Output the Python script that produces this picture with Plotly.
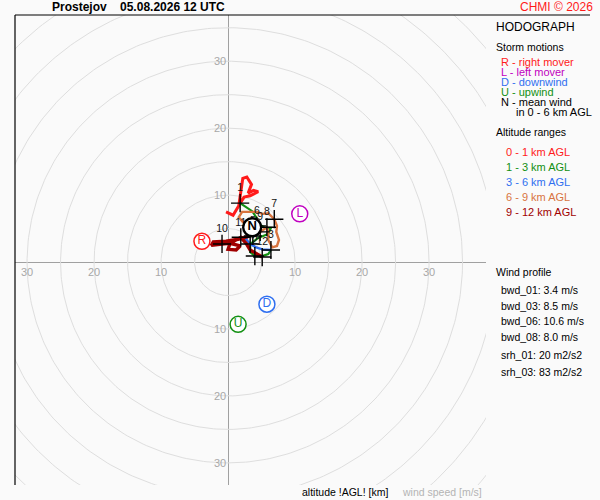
import numpy as np
import plotly.graph_objects as go

# wind hodograph (u, v in m/s) per altitude layer
u_0_1 = [-0.3, 0.75, 1.6, 1.9, 2.2, 2.8, 3.5, 3.0, 3.8, 4.5, 3.3, 2.4, 1.8]
v_0_1 = [7.5, 7.0, 8.4, 10.4, 12.5, 12.7, 11.6, 10.3, 10.7, 10.5, 9.9, 9.7, 8.8]
u_1_3 = [1.8, 2.7, 3.6, 4.2, 4.6, 5.5, 6.4, 6.0, 4.5, 3.3, 3.3, 4.0, 5.1, 6.0, 6.4]
v_1_3 = [8.8, 8.2, 7.6, 6.7, 5.7, 5.1, 5.1, 4.2, 3.6, 2.7, 1.5, 0.9, 0.9, 1.2, 1.8]
u_3_6 = [6.4, 5.1, 4.2, 3.3, 2.7, 3.1, 3.7, 3.6, 4.3]
v_3_6 = [1.8, 1.9, 2.2, 2.7, 3.4, 4.3, 3.9, 4.9, 5.4]
u_6_9 = [4.3, 3.3, 2.2, 1.6, 2.1, 3.3, 4.2, 5.2, 6.0, 6.9, 7.3, 7.2, 7.6, 7.3, 6.6, 6.0, 6.0, 5.8, 4.8]
v_6_9 = [5.4, 5.7, 6.0, 6.7, 7.5, 7.5, 7.5, 7.2, 7.3, 6.4, 5.4, 4.5, 3.3, 2.4, 2.2, 3.3, 4.5, 5.2, 4.5]
u_9_12 = [4.8, 3.3, 1.5, -0.3, -2.2, -2.5, -0.9, 0.3, 1.8, 1.2, 0.0, 0.3, 1.9, 2.7, 3.3, 4.2, 5.1]
v_9_12 = [4.5, 3.9, 3.4, 3.1, 3.0, 2.5, 2.7, 2.8, 2.4, 1.8, 1.9, 2.8, 3.7, 2.8, 1.8, 1.2, 0.75]

# km markers
km_labels = ["1", "2", "3", "4", "5", "6", "7", "8", "9", "10", "11", "12"]
km_u = [1.8, 4.0, 6.4, 3.3, 3.7, 4.3, 6.9, 5.8, 4.8, -0.9, 1.9, 5.1]
km_v = [8.8, 0.9, 1.8, 2.7, 3.9, 5.4, 6.4, 5.2, 4.5, 2.7, 3.7, 0.75]

# storm motions
storm_names = ["R", "L", "D", "U", "N"]
storm_u = [-3.9, 10.7, 5.8, 1.5, 3.6]
storm_v = [3.1, 7.2, -6.3, -9.3, 5.2]

rings = [5, 10, 15, 20, 25, 30, 35, 40, 45, 50]
ring_ticks = [10, 20, 30]

layer_names = ["0 - 1 km AGL", "1 - 3 km AGL", "3 - 6 km AGL", "6 - 9 km AGL", "9 - 12 km AGL"]
profile_lines = ["bwd_01: 3.4 m/s", "bwd_03: 8.5 m/s", "bwd_06: 10.6 m/s", "bwd_08: 8.0 m/s"]
srh_lines = ["srh_01: 20 m2/s2", "srh_03: 83 m2/s2"]

RED = "#ff1a1a"
PURPLE = "#c000c0"
BLUE = "#2f6ff0"
GREEN = "#129012"
ORANGE = "#d8743f"
DARKRED = "#a00000"
FONT = "Liberation Sans, Arial, sans-serif"

fig = go.Figure()

t = np.linspace(0, 2 * np.pi, 361)
for r in rings:
    fig.add_trace(go.Scatter(x=r * np.cos(t), y=r * np.sin(t), mode="lines",
                             line=dict(color="#dedede", width=1), hoverinfo="skip"))

layers = [(u_0_1, v_0_1, RED, 3), (u_1_3, v_1_3, GREEN, 2.2),
          (u_3_6, v_3_6, BLUE, 2.4), (u_6_9, v_6_9, ORANGE, 2.4),
          (u_9_12, v_9_12, DARKRED, 3.4)]
for u, v, c, w in layers:
    fig.add_trace(go.Scatter(x=u, y=v, mode="lines", line=dict(color=c, width=w)))

fig.add_trace(go.Scatter(x=km_u, y=km_v, mode="markers+text", text=km_labels,
                         textposition="top center",
                         textfont=dict(family=FONT, size=10.5, color="#111"),
                         marker=dict(symbol="cross-thin", size=13,
                                     line=dict(color="black", width=1.4))))

storm_colors = [RED, PURPLE, BLUE, GREEN, "black"]
for name, u, v, c in zip(storm_names, storm_u, storm_v, storm_colors):
    bold = name == "N"
    fig.add_trace(go.Scatter(
        x=[u], y=[v], mode="markers+text", text=["<b>N</b>" if bold else name],
        textposition="middle center",
        textfont=dict(family=FONT, size=13 if bold else 12, color=c),
        marker=dict(symbol="circle", size=18 if bold else 16, color="white",
                    line=dict(color=c, width=2.4 if bold else 1.5))))

ann = []
for tv in ring_ticks:
    for s in (-1, 1):
        ann.append(dict(x=s * tv, y=0, xref="x", yref="y", text=str(tv),
                        showarrow=False, yanchor="top", yshift=-2,
                        font=dict(family=FONT, size=11, color="#a8a8a8")))
        ann.append(dict(x=0, y=s * tv, xref="x", yref="y", text=str(tv),
                        showarrow=False, xanchor="right", xshift=0,
                        font=dict(family=FONT, size=11, color="#a8a8a8")))


def txt(px, py, s, color="black", size=11, anchor="left"):
    ann.append(dict(x=px / 600, y=1 - py / 500, xref="paper", yref="paper",
                    text=s, showarrow=False, xanchor=anchor, yanchor="middle",
                    font=dict(family=FONT, size=size, color=color)))


txt(50, 7, "<b>Prostejov    05.08.2026 12 UTC</b>", size=12)
txt(595, 7, "CHMI © 2026", RED, 12, "right")
txt(494, 27, "HODOGRAPH", size=12)
txt(494, 47, "Storm motions", size=10.5)
txt(499, 62, "R - right mover", RED)
txt(499, 72, "L - left mover", PURPLE)
txt(499, 82, "D - downwind", BLUE)
txt(499, 92, "U - upwind", GREEN)
txt(499, 102, "N - mean wind")
txt(514, 112, "in 0 - 6 km AGL")
txt(494, 132, "Altitude ranges", size=10.5)
for i, (name, c) in enumerate(zip(layer_names, [RED, GREEN, BLUE, ORANGE, DARKRED])):
    txt(504, 152 + 15 * i, name, c)
txt(494, 272, "Wind profile", size=10.5)
for i, s in enumerate(profile_lines):
    txt(499, 290 + 15.6 * i, s, size=10.5)
for i, s in enumerate(srh_lines):
    txt(499, 355 + 17 * i, s, size=10.5)
txt(300, 492, "altitude !AGL! [km]", size=10.5)
txt(400, 492, "wind speed [m/s]", "#b4b4b4", 10.5)

fig.update_layout(
    width=600, height=500, margin=dict(l=0, r=0, t=0, b=0),
    paper_bgcolor="#fafafa", plot_bgcolor="#fafafa", showlegend=False,
    annotations=ann,
    xaxis=dict(domain=[15 / 600, 486 / 600], range=[-31.8, 38.5], showgrid=False,
               showticklabels=False, ticks="", zeroline=True, zerolinecolor="#a0a0a0",
               zerolinewidth=1, fixedrange=True),
    yaxis=dict(domain=[15 / 500, 485 / 500], range=[-33.3, 36.9], showgrid=False,
               showticklabels=False, ticks="", zeroline=True, zerolinecolor="#a0a0a0",
               zerolinewidth=1, fixedrange=True),
    shapes=[
        dict(type="line", xref="paper", yref="paper", x0=15 / 600, x1=590 / 600,
             y0=1 - 15 / 500, y1=1 - 15 / 500, line=dict(color="black", width=1.2)),
        dict(type="line", xref="paper", yref="paper", x0=15 / 600, x1=15 / 600,
             y0=1 - 15 / 500, y1=1 - 485 / 500, line=dict(color="black", width=1.2)),
    ],
)

fig.write_html("out.html", config={"displayModeBar": False},
               post_script="document.body.style.margin='0';document.body.style.background='#fafafa';")
